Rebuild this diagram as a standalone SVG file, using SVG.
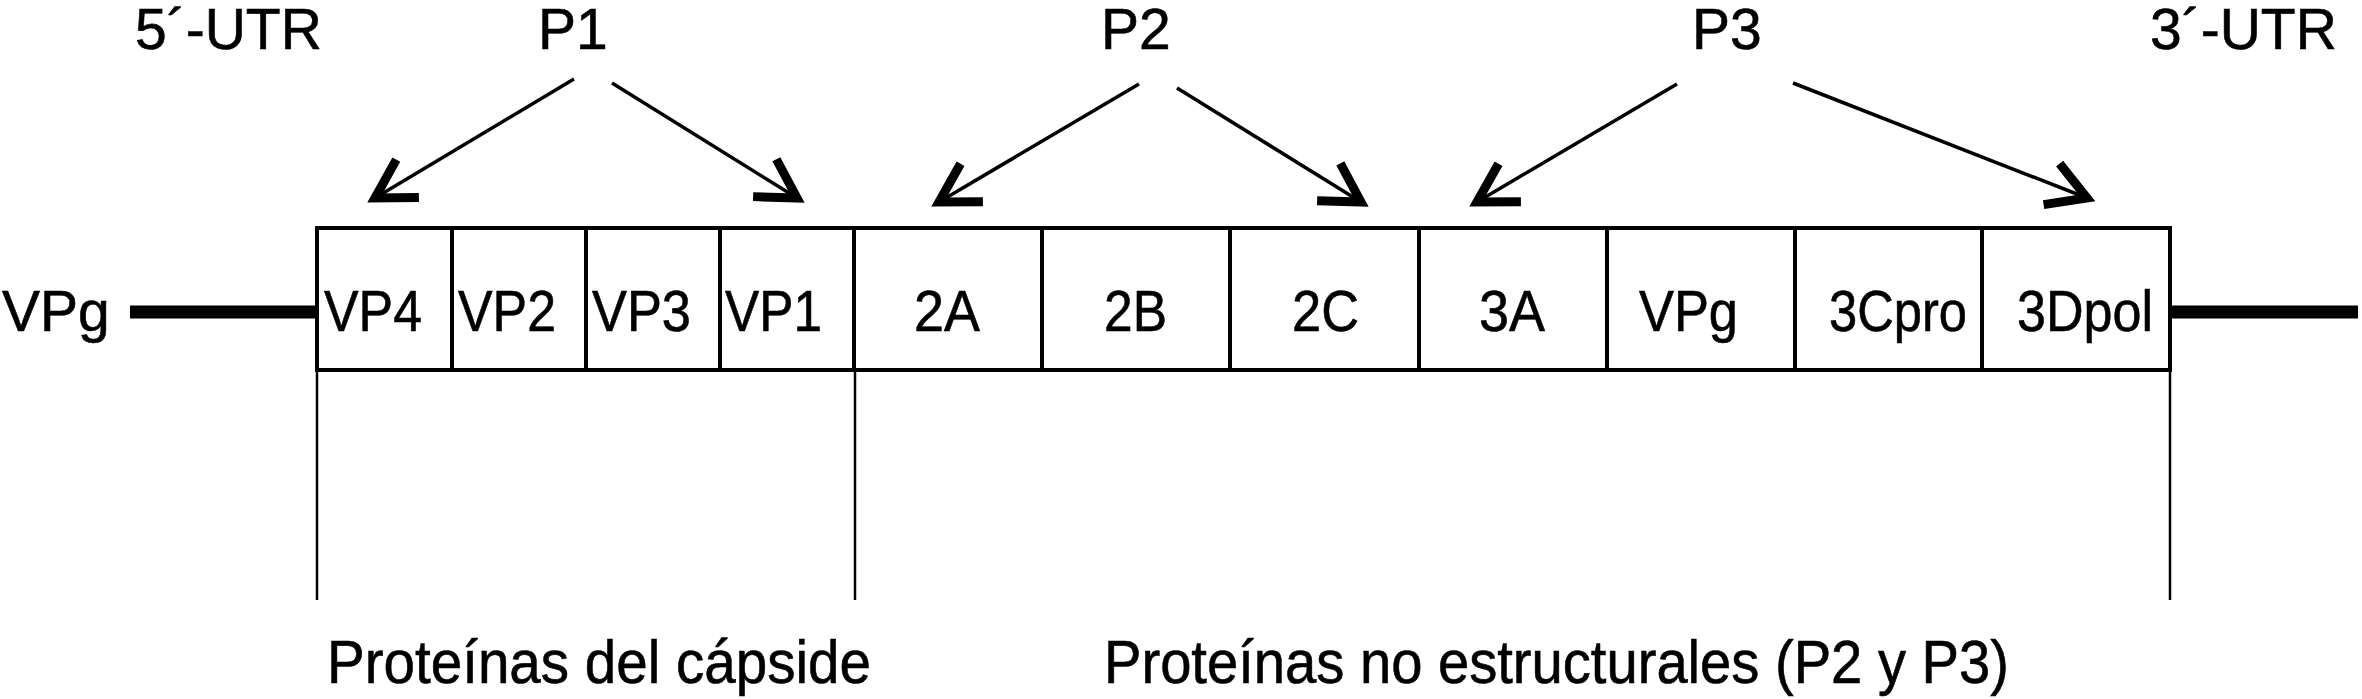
<svg xmlns="http://www.w3.org/2000/svg" width="2362" height="699" viewBox="0 0 2362 699">
<style>
text{font-family:"Liberation Sans",Arial,Helvetica,sans-serif;fill:#000;stroke:#000;stroke-width:0.6}
.lbl{font-size:57px}
.bot{font-size:61px}
.cell{fill:#fff;stroke:#000;stroke-width:4}
.arr{stroke:#000;stroke-width:3.5;fill:none;marker-end:url(#ah)}
.tail{stroke:#000;stroke-width:13;fill:none}
.lead{stroke:#000;stroke-width:2.5;fill:none}
</style>
<defs>
<marker id="ah" markerUnits="userSpaceOnUse" markerWidth="60" markerHeight="60" refX="0" refY="0" orient="auto" overflow="visible">
<path d="M -38,-22 L 0,0 L -38,22" fill="none" stroke="#000" stroke-width="9" stroke-linejoin="miter"/>
</marker>
</defs>
<rect width="2362" height="699" fill="#fff"/>
<g id="labels-top">
<text class="lbl" x="135" y="49">5´-UTR</text>
<text class="lbl" x="538" y="49">P1</text>
<text class="lbl" x="1101" y="49">P2</text>
<text class="lbl" x="1692" y="49">P3</text>
<text class="lbl" x="2150" y="49">3´-UTR</text>
</g>
<g id="vpg-end">
<text class="lbl" x="2" y="331">VPg</text>
<line class="tail" x1="130" y1="312" x2="317" y2="312"/>
</g>
<g id="tail-3">
<line class="tail" x1="2170" y1="312" x2="2358" y2="312"/>
</g>
<g id="cell-VP4"><rect class="cell" x="317" y="228" width="135" height="142"/><text class="lbl" x="324" y="331" textLength="98" lengthAdjust="spacingAndGlyphs">VP4</text></g>
<g id="cell-VP2"><rect class="cell" x="452" y="228" width="134" height="142"/><text class="lbl" x="458" y="331" textLength="98" lengthAdjust="spacingAndGlyphs">VP2</text></g>
<g id="cell-VP3"><rect class="cell" x="586" y="228" width="134" height="142"/><text class="lbl" x="592" y="331" textLength="99" lengthAdjust="spacingAndGlyphs">VP3</text></g>
<g id="cell-VP1"><rect class="cell" x="720" y="228" width="134" height="142"/><text class="lbl" x="725" y="331" textLength="97" lengthAdjust="spacingAndGlyphs">VP1</text></g>
<g id="cell-2A"><rect class="cell" x="854" y="228" width="188" height="142"/><text class="lbl" x="914" y="331" textLength="66" lengthAdjust="spacingAndGlyphs">2A</text></g>
<g id="cell-2B"><rect class="cell" x="1042" y="228" width="188" height="142"/><text class="lbl" x="1104" y="331" textLength="63" lengthAdjust="spacingAndGlyphs">2B</text></g>
<g id="cell-2C"><rect class="cell" x="1230" y="228" width="189" height="142"/><text class="lbl" x="1292" y="331" textLength="67" lengthAdjust="spacingAndGlyphs">2C</text></g>
<g id="cell-3A"><rect class="cell" x="1419" y="228" width="188" height="142"/><text class="lbl" x="1479" y="331" textLength="66" lengthAdjust="spacingAndGlyphs">3A</text></g>
<g id="cell-VPg"><rect class="cell" x="1607" y="228" width="188" height="142"/><text class="lbl" x="1639" y="331" textLength="99" lengthAdjust="spacingAndGlyphs">VPg</text></g>
<g id="cell-3Cpro"><rect class="cell" x="1795" y="228" width="187" height="142"/><text class="lbl" x="1829" y="331" textLength="138" lengthAdjust="spacingAndGlyphs">3Cpro</text></g>
<g id="cell-3Dpol"><rect class="cell" x="1982" y="228" width="188" height="142"/><text class="lbl" x="2017" y="331" textLength="136" lengthAdjust="spacingAndGlyphs">3Dpol</text></g>
<g id="connectors">
<line class="arr" x1="574" y1="79" x2="375" y2="198"/>
<line class="arr" x1="612" y1="83" x2="797" y2="198"/>
<line class="arr" x1="1139" y1="84" x2="939" y2="202"/>
<line class="arr" x1="1177" y1="88" x2="1361" y2="202"/>
<line class="arr" x1="1677" y1="84" x2="1477" y2="202"/>
<line class="arr" x1="1793" y1="83" x2="2087" y2="198"/>
<line class="lead" x1="317" y1="370" x2="317" y2="600"/>
<line class="lead" x1="855" y1="370" x2="855" y2="600"/>
<line class="lead" x1="2170" y1="370" x2="2170" y2="600"/>
</g>
<g id="group-capsid">
<text class="bot" x="327" y="683" textLength="544" lengthAdjust="spacingAndGlyphs">Proteínas del cápside</text>
</g>
<g id="group-nonstructural">
<text class="bot" x="1104" y="683" textLength="905" lengthAdjust="spacingAndGlyphs">Proteínas no estructurales (P2 y P3)</text>
</g>
</svg>
